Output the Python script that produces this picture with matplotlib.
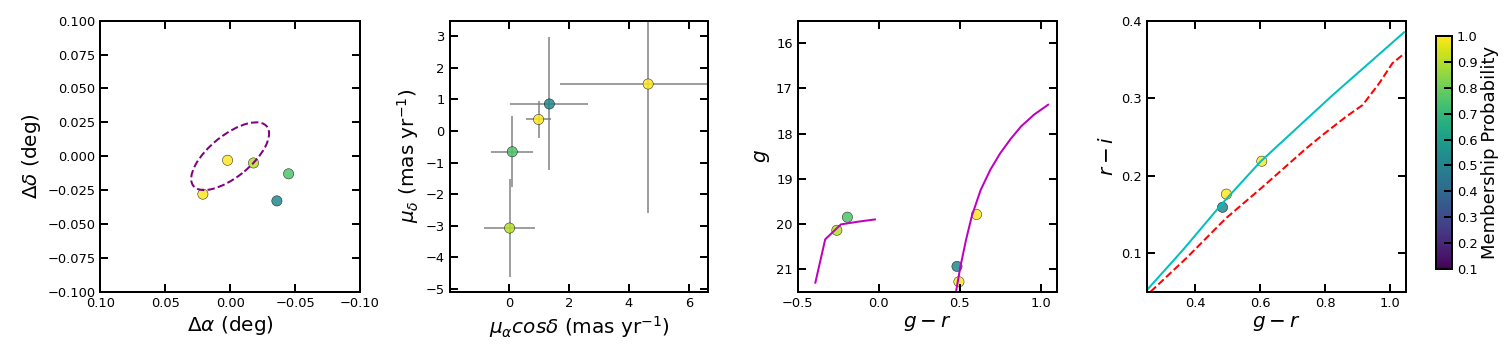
import numpy as np
import matplotlib
matplotlib.use("Agg")
import matplotlib.pyplot as plt
from matplotlib.patches import Ellipse

# ---- data: five candidate member stars ----
ra_off = [0.002, -0.018, -0.045, -0.036, 0.021]     # deg
dec_off = [-0.003, -0.005, -0.013, -0.033, -0.028]  # deg
prob = [1.0, 0.9, 0.75, 0.52, 1.0]

pmra = [4.64, 0.01, 0.10, 1.34, 0.98]
pmra_err = [2.95, 0.86, 0.70, 1.30, 0.41]
pmdec = [1.48, -3.07, -0.66, 0.85, 0.36]
pmdec_err = [4.09, 1.56, 1.12, 2.10, 0.58]

g_r = [0.605, -0.258, -0.193, 0.484, 0.496]
g_mag = [19.79, 20.14, 19.85, 20.94, 21.28]
r_i = [0.2185, np.nan, np.nan, 0.159, 0.176]

# half-light ellipse
ell_center = (0.0, 0.0)
ell_width = 0.0716
ell_height = 0.0312
ell_angle = -37.3

# isochrone: horizontal branch and red giant branch
hb_gr = [-0.391, -0.330, -0.233, -0.127, -0.023]
hb_g = [21.30, 20.34, 20.01, 19.95, 19.90]
rgb_gr = [0.478, 0.506, 0.540, 0.576, 0.630, 0.690, 0.750, 0.815, 0.880, 0.960, 1.047]
rgb_g = [21.50, 20.93, 20.35, 19.82, 19.25, 18.80, 18.44, 18.12, 17.84, 17.58, 17.36]

# colour-colour loci
cyan_gr = [0.249, 0.362, 0.481, 0.601, 0.824, 1.044]
cyan_ri = [0.0514, 0.104, 0.163, 0.218, 0.304, 0.385]
red_gr = [0.262, 0.372, 0.495, 0.603, 0.742, 0.793, 0.865, 0.916, 0.967, 1.008, 1.046]
red_ri = [0.050, 0.0932, 0.145, 0.1836, 0.235, 0.2525, 0.276, 0.291, 0.319, 0.345, 0.358]

# ---- style ----
plt.rcParams.update({
    "font.family": "DejaVu Sans",
    "font.size": 13,
    "axes.linewidth": 2,
    "xtick.direction": "in", "ytick.direction": "in",
    "xtick.top": True, "ytick.right": True,
    "xtick.major.size": 8, "ytick.major.size": 8,
    "xtick.major.width": 2, "ytick.major.width": 2,
    "xtick.major.pad": 5, "ytick.major.pad": 5,
    "xtick.labelsize": 13, "ytick.labelsize": 13,
    "mathtext.fontset": "dejavusans",
})

fig = plt.figure(figsize=(21, 5), dpi=72)
W, H = 1512.0, 360.0

def box(l, r, t, b):
    return [l / W, 1 - b / H, (r - l) / W, (b - t) / H]

ax1 = fig.add_axes(box(100.3, 360.0, 20.7, 291.7))
ax2 = fig.add_axes(box(449.7, 708.3, 20.7, 292.0))
ax3 = fig.add_axes(box(797.7, 1056.7, 20.7, 291.7))
ax4 = fig.add_axes(box(1146.7, 1406.0, 20.7, 291.7))
cax = fig.add_axes(box(1435.7, 1451.7, 35.7, 269.3))

cmap = "viridis"
vmin, vmax = 0.1, 1.0
sc_kw = dict(c=prob, cmap=cmap, vmin=vmin, vmax=vmax, s=105,
             edgecolors="k", linewidths=0.5, alpha=0.85)
lab = 20

# panel 1
sc = ax1.scatter(ra_off, dec_off, **sc_kw)
ax1.add_patch(Ellipse(ell_center, ell_width, ell_height, angle=ell_angle,
                      fill=False, edgecolor="purple", linestyle="--",
                      linewidth=2, zorder=3))
ax1.set_xlim(0.1, -0.1)
ax1.set_ylim(-0.1, 0.1)
ax1.set_xticks([0.1, 0.05, 0.0, -0.05, -0.1])
ax1.set_yticks(np.arange(-0.1, 0.1001, 0.025))
ax1.set_xlabel(r"$\Delta\alpha$ (deg)", fontsize=lab)
ax1.set_ylabel(r"$\Delta\delta$ (deg)", fontsize=lab)

# panel 2
ax2.errorbar(pmra, pmdec, xerr=pmra_err, yerr=pmdec_err, fmt="none",
             ecolor="gray", elinewidth=1.5, capsize=0, zorder=2)
ax2.scatter(pmra, pmdec, zorder=3, **sc_kw)
ax2.set_xlim(-1.99, 6.65)
ax2.set_ylim(-5.09, 3.48)
ax2.set_xticks([0, 2, 4, 6])
ax2.set_yticks(range(-5, 4))
ax2.set_xlabel(r"$\mu_{\alpha} cos\delta$ (mas yr$^{-1}$)", fontsize=lab)
ax2.set_ylabel(r"$\mu_{\delta}$ (mas yr$^{-1}$)", fontsize=lab)

# panel 3
ax3.scatter(g_r, g_mag, **sc_kw)
ax3.plot(hb_gr, hb_g, color="m", lw=2)
ax3.plot(rgb_gr, rgb_g, color="m", lw=2)
ax3.set_xlim(-0.5, 1.1)
ax3.set_ylim(21.5, 15.5)
ax3.set_xticks([-0.5, 0.0, 0.5, 1.0])
ax3.set_yticks([16, 17, 18, 19, 20, 21])
ax3.set_xlabel(r"$g-r$", fontsize=lab)
ax3.set_ylabel(r"$g$", fontsize=lab)

# panel 4
ax4.scatter(g_r, r_i, **sc_kw)
ax4.plot(cyan_gr, cyan_ri, color="c", lw=2)
ax4.plot(red_gr, red_ri, color="r", lw=2, ls="--")
ax4.set_xlim(0.25, 1.05)
ax4.set_ylim(0.05, 0.4)
ax4.set_xticks([0.4, 0.6, 0.8, 1.0])
ax4.set_yticks([0.1, 0.2, 0.3, 0.4])
ax4.set_xlabel(r"$g-r$", fontsize=lab)
ax4.set_ylabel(r"$r-i$", fontsize=lab)

cb = fig.colorbar(sc, cax=cax)
cb.solids.set_alpha(1)
cb.set_ticks(np.round(np.arange(0.1, 1.01, 0.1), 1))
cb.ax.tick_params(direction="in", length=8, width=2, labelsize=13)
cb.outline.set_linewidth(2)
cb.set_label("Membership Probability", fontsize=18)

fig.savefig("out.png", dpi=72)
